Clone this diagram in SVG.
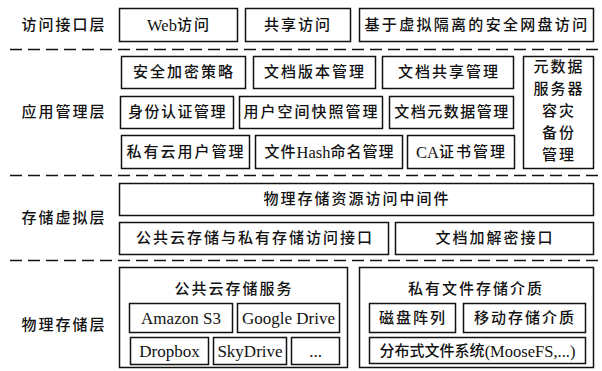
<svg xmlns="http://www.w3.org/2000/svg" width="602" height="371" viewBox="0 0 602 371">
<style>
.b{fill:#fff;stroke:#111;stroke-width:1.5}
.d{stroke:#111;stroke-width:1.5;stroke-dasharray:12 6;fill:none}
text{font-family:"Liberation Serif","Noto Sans CJK SC",serif;font-size:15px;fill:#111;text-anchor:middle;dominant-baseline:central;letter-spacing:2px;font-weight:500}
.e{font-size:17px;letter-spacing:0}
.t{font-size:16.5px;letter-spacing:0}
</style>
<rect width="602" height="371" fill="#fff"/>
<g id="connectors">
<line class="d" x1="10" y1="49.5" x2="600" y2="49.5"/>
<line class="d" x1="10" y1="175.5" x2="600" y2="175.5"/>
<line class="d" x1="10" y1="260.5" x2="600" y2="260.5"/>
</g>
<g id="labels">
<text x="64" y="25">访问接口层</text>
<text x="64" y="112">应用管理层</text>
<text x="64" y="218">存储虚拟层</text>
<text x="64" y="325">物理存储层</text>
</g>
<g id="n-web"><rect class="b" x="119.5" y="8.5" width="118" height="33"/><text x="179" y="25"><tspan class="t">Web</tspan>访问</text></g>
<g id="n-share"><rect class="b" x="245.5" y="8.5" width="105" height="33"/><text x="298" y="25">共享访问</text></g>
<g id="n-vdisk"><rect class="b" x="359.5" y="8.5" width="234" height="33"/><text x="477" y="25" style="letter-spacing:2.3px">基于虚拟隔离的安全网盘访问</text></g>
<g id="n-enc"><rect class="b" x="121.5" y="56.5" width="124" height="32"/><text x="184" y="72">安全加密策略</text></g>
<g id="n-ver"><rect class="b" x="253.5" y="56.5" width="122" height="32"/><text x="315" y="72">文档版本管理</text></g>
<g id="n-doc-share"><rect class="b" x="382.5" y="56.5" width="131" height="32"/><text x="449" y="72">文档共享管理</text></g>
<g id="n-meta-backup"><rect class="b" x="523.5" y="56.5" width="70" height="112"/>
<text x="559" y="67">元数据</text><text x="559" y="89">服务器</text><text x="559" y="111">容灾</text><text x="559" y="133">备份</text><text x="559" y="155">管理</text></g>
<g id="n-auth"><rect class="b" x="120.5" y="96.5" width="113" height="32"/><text x="177.5" y="112" style="letter-spacing:1.5px">身份认证管理</text></g>
<g id="n-snap"><rect class="b" x="239.5" y="96.5" width="143" height="32"/><text x="311.5" y="112">用户空间快照管理</text></g>
<g id="n-docmeta"><rect class="b" x="389.5" y="96.5" width="124" height="32"/><text x="452" y="112" style="letter-spacing:1.5px">文档元数据管理</text></g>
<g id="n-pcuser"><rect class="b" x="121.5" y="135.5" width="128" height="33"/><text x="186" y="152">私有云用户管理</text></g>
<g id="n-hash"><rect class="b" x="255.5" y="135.5" width="147" height="33"/><text x="329.5" y="152" style="letter-spacing:1px">文件<tspan class="t">Hash</tspan>命名管理</text></g>
<g id="n-ca"><rect class="b" x="407.5" y="135.5" width="107" height="33"/><text x="461.5" y="152"><tspan class="t">CA</tspan>证书管理</text></g>
<g id="n-middleware"><rect class="b" x="119.5" y="183.5" width="474" height="32"/><text x="357" y="199">物理存储资源访问中间件</text></g>
<g id="n-api"><rect class="b" x="119.5" y="222.5" width="269" height="32"/><text x="255" y="238">公共云存储与私有存储访问接口</text></g>
<g id="n-crypt"><rect class="b" x="395.5" y="222.5" width="198" height="32"/><text x="495" y="238">文档加解密接口</text></g>
<g id="n-public"><rect class="b" x="119.5" y="267.5" width="228" height="100"/><text x="234" y="289">公共云存储服务</text>
<rect class="b" x="129.5" y="303.5" width="103" height="29"/><text class="e" x="181" y="318">Amazon S3</text>
<rect class="b" x="237.5" y="303.5" width="102" height="29"/><text class="e" x="288.5" y="318">Google Drive</text>
<rect class="b" x="130.5" y="337.5" width="78" height="27"/><text class="e" x="169.5" y="351">Dropbox</text>
<rect class="b" x="213.5" y="337.5" width="73" height="27"/><text class="e" x="250" y="351">SkyDrive</text>
<rect class="b" x="291.5" y="337.5" width="48" height="27"/><text class="e" x="315.5" y="351">...</text></g>
<g id="n-private"><rect class="b" x="359.5" y="267.5" width="234" height="100"/><text x="476" y="289">私有文件存储介质</text>
<rect class="b" x="369.5" y="303.5" width="86" height="29"/><text x="413" y="318">磁盘阵列</text>
<rect class="b" x="463.5" y="303.5" width="122" height="29"/><text x="525" y="318">移动存储介质</text>
<rect class="b" x="369.5" y="337.5" width="216" height="26"/><text x="477.5" y="350.5" style="letter-spacing:0">分布式文件系统<tspan class="t">(MooseFS,...)</tspan></text></g>
</svg>
